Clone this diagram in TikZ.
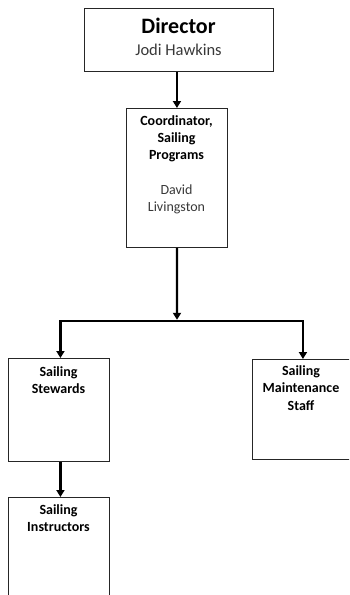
\documentclass[tikz,border=0pt]{standalone}
\usepackage{fontspec}
\setmainfont{Carlito}
\usetikzlibrary{arrows.meta}
\begin{document}
\begin{tikzpicture}[x=1pt,y=-1pt,
 box/.style={draw=black!85,line width=0.9pt,rectangle,inner sep=0pt,anchor=north west},
 arr/.style={line width=2.4pt,line join=miter,-{Triangle[width=8pt,length=7pt]}},
 lbl/.style={inner sep=0pt,align=center,anchor=base,font=\fontsize{14}{17.3}\selectfont\bfseries},
 nm/.style={inner sep=0pt,align=center,anchor=base,text=black!78,font=\fontsize{14}{17.3}\selectfont},
]
\path[use as bounding box] (0,0) rectangle (349,595);
\clip (0,0) rectangle (349,595);

\node[box,minimum width=189pt,minimum height=63pt] (dir) at (84,8) {};
\node[box,minimum width=101pt,minimum height=139pt] (coord) at (126,108) {};
\node[box,minimum width=101pt,minimum height=103pt] (stew) at (8,358) {};
\node[box,minimum width=99pt,minimum height=100pt] (maint) at (252,359) {};
\node[box,minimum width=101pt,minimum height=110pt] (inst) at (8,497) {};

\node[inner sep=0pt,anchor=base,font=\fontsize{22}{26}\selectfont\bfseries] (dirT) at (178.5,33.3) {Director};
\node[inner sep=0pt,anchor=base,text=black!78,font=\fontsize{16.5}{20}\selectfont] (dirN) at (178.5,55.7) {Jodi Hawkins};

% base anchor of a multi-line node = baseline of its last line
\node[lbl] (coordT) at (176.5,159.6) {Coordinator,\\Sailing\\Programs};
\node[nm] (coordN) at (176.5,211.7) {David\\Livingston};
\node[lbl] (stewT) at (58.5,393.5) {Sailing\\Stewards};
\node[lbl] (maintT) at (301,410) {Sailing\\Maintenance\\Staff};
\node[lbl] (instT) at (58.5,531.5) {Sailing\\Instructors};

\coordinate (bar) at (177,321);
\draw[arr] (dir.south -| coord.north) -- (coord.north);
\draw[arr] (coord.south) -- ([yshift=1.2pt]bar);
\draw[arr] (bar) -| ([xshift=1.5pt]stew.north);
\draw[arr] (bar) -| ([xshift=1pt]maint.north);
\draw[arr] ([xshift=1.5pt]stew.south) -- ([xshift=1.5pt]inst.north);
\end{tikzpicture}
\end{document}
